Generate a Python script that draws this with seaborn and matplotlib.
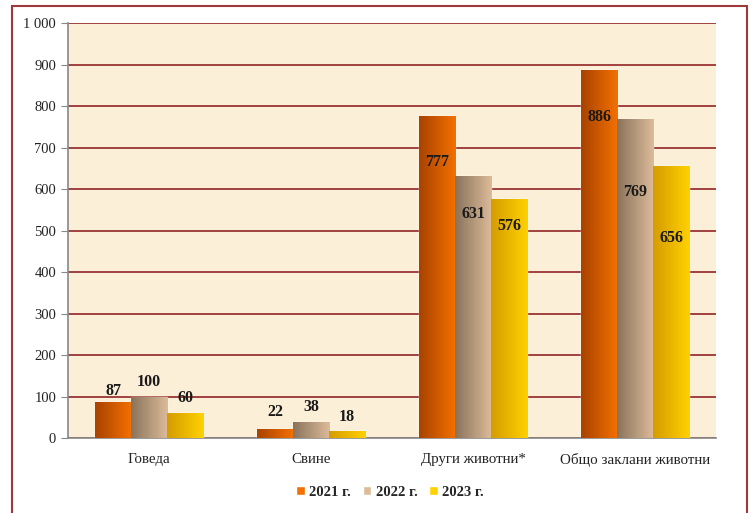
import numpy as np
import pandas as pd
import matplotlib.pyplot as plt
import matplotlib.colors as mcolors
from matplotlib.patches import Rectangle
import seaborn as sns

# Data
categories = ["Говеда", "Свине", "Други животни*", "Общо заклани животни"]
years = ["2021 г.", "2022 г.", "2023 г."]
v2021 = [87, 22, 777, 886]
v2022 = [100, 38, 631, 769]
v2023 = [60, 18, 576, 656]
yticks = [0, 100, 200, 300, 400, 500, 600, 700, 800, 900, 1000]
ytick_labels = ["0", "100", "200", "300", "400", "500", "600", "700", "800", "900", "1 000"]

# label offsets in pixels (how the original places them)
label_dy = {
    "2021 г.": [11, 17, -46, -47],
    "2022 г.": [15, 15, -38, -73],
    "2023 г.": [15, 14, -27, -72],
}

df = pd.DataFrame({
    "cat": categories * 3,
    "year": [y for y in years for _ in categories],
    "value": v2021 + v2022 + v2023,
})

# gradient colours (left -> right) per year
grad = {
    "2021 г.": ("#a84300", "#f47000"),
    "2022 г.": ("#8a735c", "#dcbb98"),
    "2023 г.": ("#d59c00", "#ffd100"),
}
palette = {y: grad[y][1] for y in years}

sns.set_style("white")
plt.rcParams["font.family"] = ["Liberation Serif", "DejaVu Serif"]

fig = plt.figure(figsize=(7.53, 5.13), dpi=100)
ax = fig.add_axes([0.0903, 0.146, 0.861, 0.809])
ax.set_facecolor("#fcefd8")

sns.barplot(data=df, x="cat", y="value", hue="year", palette=palette,
            width=0.667, gap=0, saturation=1, ax=ax, zorder=3)

n = len(categories)
for i, y in enumerate(years):
    cmap = mcolors.LinearSegmentedColormap.from_list(y, grad[y])
    for p in ax.containers[i]:
        x0, y0 = p.get_x(), p.get_y()
        w, h = p.get_width(), p.get_height()
        im = ax.imshow(np.linspace(0, 1, 64).reshape(1, -1), cmap=cmap,
                       extent=[x0, x0 + w, y0, y0 + h], aspect="auto", zorder=3.5)
        im.set_clip_path(p)

    vals = df[df["year"] == y]["value"].tolist()
    for p, v, dy in zip(ax.containers[i], vals, label_dy[y]):
        ax.annotate(str(v), (p.get_x() + p.get_width() / 2, v),
                    xytext=(0, dy), textcoords="offset pixels",
                    ha="center", va="center", fontsize=11.5, fontweight="bold",
                    color="#1a1a1a", zorder=5)

ax.set_xlim(-0.5, 3.5)
ax.set_ylim(0, 1000)
ax.set_aspect("auto")

# grid
ax.set_yticks(yticks)
ax.set_yticklabels(ytick_labels, fontsize=10.5, color="#222222")
ax.yaxis.grid(True, color="#9a3434", linewidth=1.3, zorder=1)
ax.set_axisbelow(True)

# x ticks: separators as major, names as minor
ax.set_xticks([-0.5, 0.5, 1.5, 2.5, 3.5])
ax.set_xticklabels([])
ax.set_xticks(range(n), minor=True)
ax.set_xticklabels(categories, minor=True, fontsize=10.8, color="#222222")
ax.tick_params(axis="x", which="minor", length=0, pad=11)
ax.tick_params(axis="x", which="major", length=5, color="#888888", direction="out")
ax.tick_params(axis="y", length=5, color="#888888", direction="out", left=True)

for s in ["top", "right"]:
    ax.spines[s].set_visible(False)
for s in ["left", "bottom"]:
    ax.spines[s].set_color("#888888")
    ax.spines[s].set_linewidth(1.2)

ax.set_xlabel("")
ax.set_ylabel("")

handles, labels = ax.get_legend_handles_labels()
ax.legend_.remove()
leg = fig.legend(handles, labels, loc="center", bbox_to_anchor=(0.518, 0.04),
                 ncol=3, frameon=False, prop={"weight": "bold", "size": 10.5},
                 handlelength=0.6, handleheight=0.6, handletextpad=0.3,
                 columnspacing=0.8)

# outer frame
fig.patches.append(Rectangle((0.016, -0.05), 0.976, 1.038, transform=fig.transFigure,
                             fill=False, edgecolor="#a03a3a", linewidth=1.5))

fig.savefig("out.png", dpi=100)
